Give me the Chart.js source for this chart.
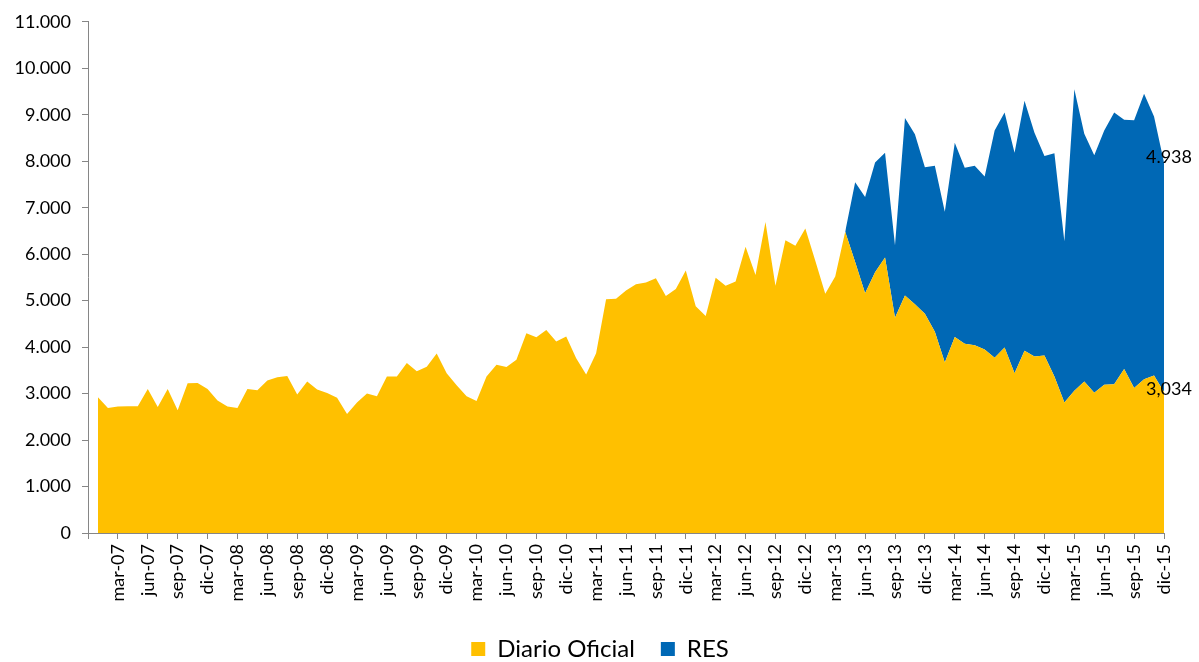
<!DOCTYPE html>
<html>
<head>
<meta charset="utf-8">
<script src="https://cdn.jsdelivr.net/npm/chart.js@4"></script>
<style>
  body { margin: 0; background: #fff; }
</style>
</head>
<body>
<canvas id="myChart" width="1199" height="662"></canvas>
<script>
// months and years for the category axis (dic-06 is an empty slot before the data)
const meses = ["ene", "feb", "mar", "abr", "may", "jun", "jul", "ago", "sep", "oct", "nov", "dic"];
const anios = ["07", "08", "09", "10", "11", "12", "13", "14", "15"];

// Diario Oficial, ene-07 .. dic-15
const diarioOficial = [
  2920, 2690, 2720, 2730, 2730, 3100, 2710, 3100, 2640, 3220, 3230, 3100,
  2850, 2720, 2690, 3100, 3070, 3280, 3350, 3380, 2980, 3260, 3090, 3010,
  2910, 2560, 2810, 3000, 2940, 3370, 3370, 3660, 3480, 3580, 3860, 3440,
  3180, 2940, 2840, 3370, 3620, 3570, 3730, 4300, 4210, 4370, 4120, 4230,
  3760, 3410, 3870, 5030, 5040, 5220, 5350, 5390, 5480, 5100, 5250, 5650,
  4880, 4670, 5490, 5320, 5410, 6160, 5550, 6690, 5320, 6300, 6180, 6550,
  5860, 5150, 5520, 6480, 5830, 5160, 5610, 5930, 4630, 5110, 4920, 4720,
  4330, 3670, 4220, 4070, 4040, 3950, 3770, 3990, 3440, 3920, 3800, 3820,
  3370, 2810, 3060, 3260, 3020, 3190, 3200, 3530, 3120, 3310, 3390, 3034
];

// RES, abr-13 .. dic-15 (no data before abr-13)
const resDesdeAbr13 = [
  0, 1720, 2070, 2360, 2250, 1560, 3820, 3660, 3150,
  3570, 3240, 4180, 3790, 3860, 3720, 4890, 5060, 4740, 5380, 4810, 4290,
  4800, 3470, 6490, 5330, 5110, 5470, 5850, 5360, 5760, 6140, 5570, 4938
];

// labels written next to the last point of each series
const etiquetasFinales = ["3,034", "4.938"];

const categorias = ["dic-06"];
anios.forEach(a => meses.forEach(m => categorias.push(m + "-" + a)));

const serieDiario = [null].concat(diarioOficial);
const serieRes = new Array(categorias.length - resDesdeAbr13.length).fill(null).concat(resDesdeAbr13);

const gris = "#868686";

const etiquetasPlugin = {
  id: "etiquetas",
  afterLayout(chart) {
    // nudge the legend to sit where the original one is
    chart.legend.left += 18;
    chart.legend.right += 18;
  },
  afterDatasetsDraw(chart) {
    const ctx = chart.ctx;
    const offsets = [-3, -5];
    ctx.save();
    ctx.font = "18px Lato";
    ctx.fillStyle = "#000";
    ctx.textAlign = "center";
    ctx.textBaseline = "middle";
    chart.data.datasets.forEach((ds, i) => {
      const meta = chart.getDatasetMeta(i);
      const pt = meta.data[meta.data.length - 1];
      ctx.fillText(etiquetasFinales[i], pt.x + 5, pt.y + offsets[i]);
    });
    ctx.restore();
  }
};

Chart.defaults.font.family = "Lato";
Chart.defaults.color = "#000";

new Chart(document.getElementById("myChart").getContext("2d"), {
  type: "line",
  data: {
    labels: categorias,
    datasets: [{
      label: "Diario Oficial",
      data: serieDiario,
      backgroundColor: "#FFC000",
      borderColor: "#FFC000",
      borderWidth: 0,
      pointRadius: 0,
      fill: "origin"
    }, {
      label: "RES",
      data: serieRes,
      backgroundColor: "#0068B5",
      borderColor: "#0068B5",
      borderWidth: 0,
      pointRadius: 0,
      fill: "-1"
    }]
  },
  options: {
    responsive: false,
    animation: false,
    devicePixelRatio: 1,
    layout: { padding: { left: 0, right: 35, top: 17, bottom: -9 } },
    elements: { line: { tension: 0 } },
    scales: {
      x: {
        offset: false,
        grid: {
          drawOnChartArea: false,
          drawTicks: true,
          tickLength: 6,
          color: ctx => ctx.index % 3 === 0 ? gris : "rgba(0,0,0,0)"
        },
        border: { color: gris },
        ticks: {
          autoSkip: false,
          minRotation: 90,
          maxRotation: 90,
          padding: 5,
          font: { size: 18 },
          callback: (v, i) => (i % 3 === 0 && i > 0) ? categorias[i] : ""
        },
        afterFit(s) { s.height = 78; }
      },
      y: {
        stacked: true,
        min: 0,
        max: 11000,
        grid: {
          drawOnChartArea: false,
          drawTicks: true,
          tickLength: 6,
          color: gris
        },
        border: { color: gris },
        ticks: {
          stepSize: 1000,
          padding: 11,
          font: { size: 18 },
          callback: v => String(v).replace(/\B(?=(\d{3})+(?!\d))/g, ".")
        },
        afterFit(s) { s.width = 88; }
      }
    },
    plugins: {
      tooltip: { enabled: false },
      legend: {
        position: "bottom",
        labels: {
          boxWidth: 14,
          boxHeight: 14,
          padding: 26,
          font: { size: 24 }
        }
      }
    }
  },
  plugins: [etiquetasPlugin]
});
</script>
</body>
</html>
